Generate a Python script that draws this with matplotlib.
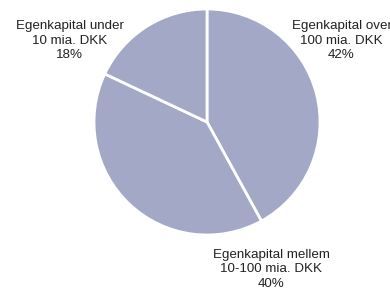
import matplotlib
matplotlib.use("Agg")
import matplotlib.pyplot as plt

labels = ["Egenkapital over\n100 mia. DKK", "Egenkapital mellem\n10-100 mia. DKK", "Egenkapital under\n10 mia. DKK"]
shares = [42, 40, 18]

plt.rcParams["font.family"] = ["Liberation Sans", "DejaVu Sans"]

fig = plt.figure(figsize=(3.9, 2.88), dpi=100)
ax = fig.add_axes([0, 0, 1, 1])

ax.pie(
    shares,
    center=(207, 166),
    radius=113,
    startangle=90,
    counterclock=False,
    colors=["#a2a8c5"] * len(shares),
    wedgeprops={"edgecolor": "white", "linewidth": 2},
    frame=True,
)
ax.set_xlim(0, 390)
ax.set_ylim(0, 288)
ax.axis("off")

# label centres (middle line), in pixels from the top-left
label_pos = [(341.5, 288 - 40.5), (271, 288 - 269.5), (69.5, 288 - 40.5)]
for text, share, (x, y) in zip(labels, shares, label_pos):
    ax.text(x, y, f"{text}\n{share}%", ha="center", va="center",
            fontsize=9.6, color="#222222", linespacing=1.25)

fig.savefig("out.png", dpi=100)
